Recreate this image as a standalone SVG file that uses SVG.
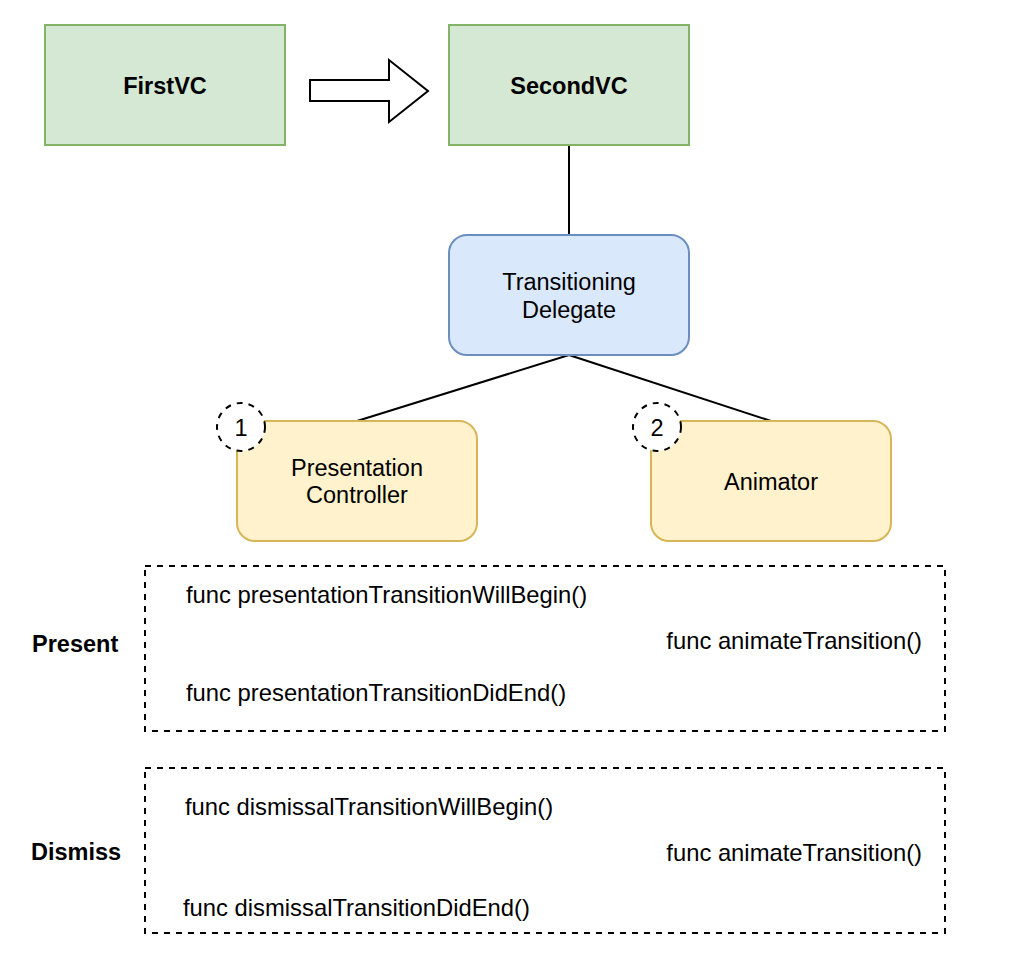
<svg xmlns="http://www.w3.org/2000/svg" width="1010" height="964" viewBox="0 0 1010 964">
  <style>
    text { font-family: "Liberation Sans", Arial, Helvetica, sans-serif; font-size: 23.5px; fill: #000; }
    .code { font-size: 23.8px; }
    .b { font-weight: bold; }
    .c { text-anchor: middle; }
    .green { fill: #d5e8d4; stroke: #82b366; stroke-width: 2; }
    .blue { fill: #dae8fc; stroke: #6c8ebf; stroke-width: 2; }
    .yellow { fill: #fff2cc; stroke: #d6b656; stroke-width: 2; }
    .dash { fill: none; stroke: #000; stroke-width: 2; stroke-dasharray: 6 6; }
    .badge { fill: #fff; stroke: #000; stroke-width: 2; stroke-dasharray: 6 6; }
    .edge { fill: none; stroke: #000; stroke-width: 2; }
  </style>
  <rect width="1010" height="964" fill="#fff"/>

  <g id="connectors">
    <polygon class="edge" points="310,80 389,80 389,60 428,91 389,122 389,101 310,101" fill="#fff"/>
    <line class="edge" x1="569" y1="145" x2="569" y2="235"/>
    <line class="edge" x1="569" y1="355" x2="357" y2="421"/>
    <line class="edge" x1="569" y1="355" x2="771" y2="421"/>
  </g>

  <g id="firstvc">
    <rect class="green" x="45" y="25" width="240" height="120"/>
    <text class="b c" x="165" y="94">FirstVC</text>
  </g>

  <g id="secondvc">
    <rect class="green" x="449" y="25" width="240" height="120"/>
    <text class="b c" x="569" y="94">SecondVC</text>
  </g>

  <g id="delegate">
    <rect class="blue" x="449" y="235" width="240" height="120" rx="18" ry="18"/>
    <text class="c" x="569" y="290">Transitioning</text>
    <text class="c" x="569" y="318">Delegate</text>
  </g>

  <g id="presentation-controller">
    <rect class="yellow" x="237" y="421" width="240" height="120" rx="18" ry="18"/>
    <text class="c" x="357" y="476">Presentation</text>
    <text class="c" x="357" y="503">Controller</text>
  </g>

  <g id="badge-1">
    <circle class="badge" cx="241" cy="427" r="24"/>
    <text class="c" x="241" y="436">1</text>
  </g>

  <g id="animator">
    <rect class="yellow" x="651" y="421" width="240" height="120" rx="18" ry="18"/>
    <text class="c" x="771" y="490">Animator</text>
  </g>

  <g id="badge-2">
    <circle class="badge" cx="657" cy="427" r="24"/>
    <text class="c" x="657" y="436">2</text>
  </g>

  <g id="present">
    <text class="b" x="32" y="652">Present</text>
    <rect class="dash" x="145" y="566" width="800" height="165"/>
    <text class="code" x="186" y="603">func presentationTransitionWillBegin()</text>
    <text class="code" x="922" y="649" text-anchor="end">func animateTransition()</text>
    <text class="code" x="186" y="701">func presentationTransitionDidEnd()</text>
  </g>

  <g id="dismiss">
    <text class="b" x="31" y="860">Dismiss</text>
    <rect class="dash" x="145" y="768" width="800" height="165"/>
    <text class="code" x="185" y="815">func dismissalTransitionWillBegin()</text>
    <text class="code" x="922" y="861" text-anchor="end">func animateTransition()</text>
    <text class="code" x="183" y="916">func dismissalTransitionDidEnd()</text>
  </g>
</svg>
